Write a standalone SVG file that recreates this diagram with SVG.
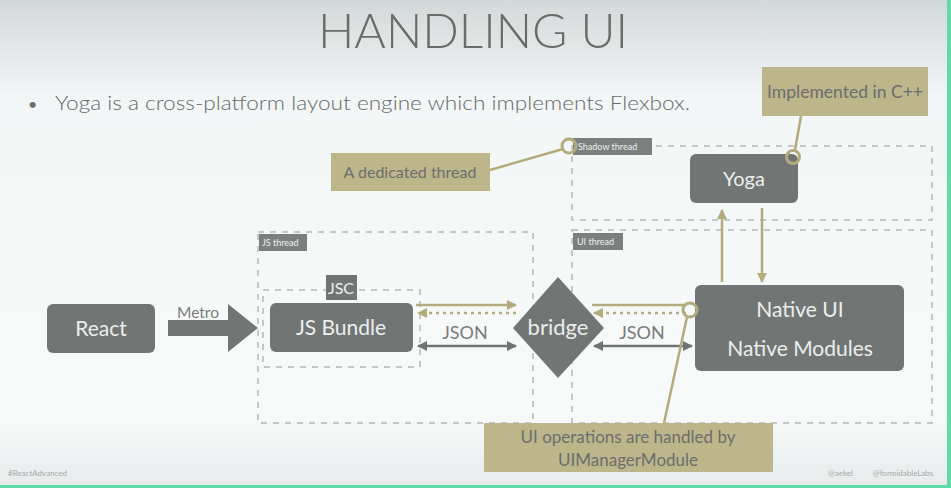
<svg xmlns="http://www.w3.org/2000/svg" width="951" height="488" viewBox="0 0 951 488">
<defs>
<linearGradient id="bg" x1="0" y1="0" x2="0" y2="1">
<stop offset="0" stop-color="#d3d8d8"/>
<stop offset="0.2" stop-color="#f3f6f6"/>
<stop offset="0.85" stop-color="#f8fafa"/>
<stop offset="1" stop-color="#e6eaea"/>
</linearGradient>
<marker id="ak" viewBox="0 0 10 10" refX="9" refY="5" markerWidth="4" markerHeight="4" orient="auto-start-reverse"><path d="M0,0 L10,5 L0,10 z" fill="#b3ab7c"/></marker>
<marker id="ag" viewBox="0 0 10 10" refX="9" refY="5" markerWidth="4" markerHeight="4" orient="auto-start-reverse"><path d="M0,0 L10,5 L0,10 z" fill="#6f7473"/></marker>
</defs>
<style>
.node{fill:#717675}
.nt{font-family:Lato,"Open Sans",sans-serif;fill:#eceeee;text-anchor:middle}
.call{fill:#bdb68b}
.ct{font-family:Lato,"Open Sans",sans-serif;fill:#6c6e6d;text-anchor:middle}
.dash{fill:none;stroke:#b6b8b8;stroke-width:1.5;stroke-dasharray:6,6}
.lab{fill:#7b807f}
.lt{font-family:Lato,"DejaVu Sans",sans-serif;font-size:9px;fill:#eef0f0}
.kh{stroke:#b3ab7c;stroke-width:2.5;fill:none}
.gr{stroke:#6f7473;stroke-width:2.5;fill:none}
.circ{fill:none;stroke:#b3ab7c;stroke-width:3}
.foot{font-family:Lato,"DejaVu Sans",sans-serif;font-size:8px;fill:#a5a9a9}
.lbl{font-family:Lato,sans-serif;fill:#7a7c7c;text-anchor:middle}
</style>
<rect width="951" height="488" fill="url(#bg)"/>
<rect x="947" y="0" width="4" height="488" fill="#5fdca6"/>
<rect x="0" y="485" width="951" height="3" fill="#5fdca6"/>

<text x="473" y="48" font-family="Lato,'Open Sans',sans-serif" font-weight="300" font-size="48" fill="#6a6c6c" text-anchor="middle" textLength="310" lengthAdjust="spacingAndGlyphs">HANDLING UI</text>
<text x="28" y="110" font-family="Lato,sans-serif" font-size="16" fill="#6a6c6c">•</text>
<text x="55" y="110" font-family="Lato,'Open Sans',sans-serif" font-weight="300" font-size="20.5" fill="#666868" textLength="635" lengthAdjust="spacingAndGlyphs">Yoga is a cross-platform layout engine which implements Flexbox.</text>

<g id="threads">
<rect class="dash" x="572" y="146" width="360" height="74"/>
<rect class="dash" x="572" y="230" width="360" height="193"/>
<rect class="dash" x="258" y="232" width="275" height="191"/>
<rect class="dash" x="263" y="290" width="157" height="77"/>
<rect class="lab" x="573" y="138" width="79" height="17"/>
<text class="lt" x="578" y="150">Shadow thread</text>
<rect class="lab" x="573" y="233" width="50" height="17"/>
<text class="lt" x="577" y="245">UI thread</text>
<rect class="lab" x="259" y="234" width="48" height="17"/>
<text class="lt" x="262" y="246">JS thread</text>
</g>

<g id="connectors">
<path d="M168,320 H228 V304 L258,328 L228,352 V336 H168 Z" fill="#717675"/>
<text class="lbl" x="198" y="318" font-size="15.5">Metro</text>
<line class="kh" x1="416" y1="305" x2="516" y2="305" marker-end="url(#ak)"/>
<line class="kh" x1="516" y1="313" x2="418" y2="313" stroke-dasharray="3,4" marker-end="url(#ak)"/>
<line class="gr" x1="418" y1="346" x2="516" y2="346" marker-start="url(#ag)" marker-end="url(#ag)"/>
<text class="lbl" x="465" y="339" font-size="18">JSON</text>
<line class="kh" x1="592" y1="305" x2="686" y2="305"/>
<line class="kh" x1="686" y1="313" x2="594" y2="313" stroke-dasharray="3,4" marker-end="url(#ak)"/>
<line class="gr" x1="594" y1="346" x2="692" y2="346" marker-start="url(#ag)" marker-end="url(#ag)"/>
<text class="lbl" x="642" y="339" font-size="18">JSON</text>
<line class="kh" x1="722" y1="282" x2="722" y2="210" marker-end="url(#ak)"/>
<line class="kh" x1="762" y1="208" x2="762" y2="282" marker-end="url(#ak)"/>
<line class="kh" x1="490" y1="170" x2="563" y2="149"/>
<line class="kh" x1="801" y1="116" x2="795" y2="150"/>
<line class="kh" x1="687" y1="317" x2="664" y2="423"/>
</g>

<g id="react">
<rect class="node" x="47" y="304" width="108" height="49" rx="6"/>
<text class="nt" x="101" y="336" font-size="21">React</text>
</g>
<g id="jsc-label">
<rect class="node" x="326" y="275" width="31" height="25"/>
<text class="nt" x="341" y="294" font-size="16">JSC</text>
</g>
<g id="jsbundle">
<rect class="node" x="270" y="303" width="143" height="49" rx="6"/>
<text class="nt" x="341" y="335" font-size="21">JS Bundle</text>
</g>
<g id="bridge">
<path d="M558,277 L604,328 L558,378 L513,328 Z" class="node"/>
<text class="nt" x="558" y="335" font-size="22">bridge</text>
</g>
<g id="native">
<rect class="node" x="695" y="285" width="209" height="86" rx="6"/>
<text class="nt" x="800" y="317" font-size="21">Native UI</text>
<text class="nt" x="800" y="356" font-size="21">Native Modules</text>
</g>
<g id="yoga">
<rect class="node" x="690" y="154" width="108" height="49" rx="6"/>
<text class="nt" x="744" y="186" font-size="20">Yoga</text>
</g>

<g id="callout-cpp">
<rect class="call" x="762" y="67" width="166" height="49"/>
<text class="ct" x="845" y="98" font-size="16.5" textLength="156" lengthAdjust="spacingAndGlyphs">Implemented in C++</text>
<circle class="circ" cx="793" cy="157" r="6.5"/>
</g>
<g id="callout-thread">
<rect class="call" x="331" y="153" width="159" height="38"/>
<text class="ct" x="410" y="178" font-size="16">A dedicated thread</text>
<circle class="circ" cx="569" cy="146" r="7"/>
</g>
<g id="callout-ui">
<rect class="call" x="484" y="423" width="289" height="49"/>
<text class="ct" x="628" y="443" font-size="17">UI operations are handled by</text>
<text class="ct" x="628" y="466" font-size="17">UIManagerModule</text>
<circle class="circ" cx="690" cy="310" r="7"/>
</g>

<text class="foot" x="8" y="476">#ReactAdvanced</text>
<text class="foot" x="828" y="476">@aekel</text>
<text class="foot" x="873" y="476">@formidableLabs</text>
</svg>
